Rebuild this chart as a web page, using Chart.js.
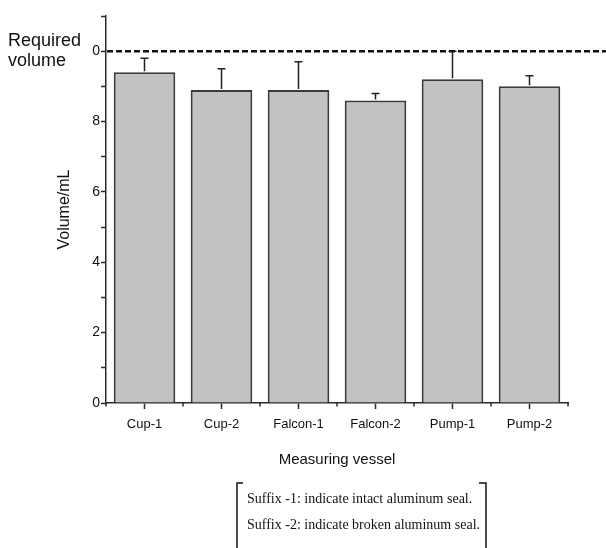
<!DOCTYPE html>
<html>
<head>
<meta charset="utf-8">
<script src="https://cdn.jsdelivr.net/npm/chart.js@4/dist/chart.umd.min.js"></script>
<style>
  html, body { margin: 0; padding: 0; background: #fff; }
  #wrap { position: relative; width: 606px; height: 548px; }
</style>
</head>
<body>
<div id="wrap"><canvas id="c" width="606" height="548"></canvas></div>
<script>
const categories = ['Cup-1', 'Cup-2', 'Falcon-1', 'Falcon-2', 'Pump-1', 'Pump-2'];
const volumes = [9.4, 8.9, 8.9, 8.6, 9.2, 9.0];
const errors = [0.4, 0.6, 0.8, 0.2, 0.8, 0.3];
const requiredVolume = 10;
const yMin = 0;
const yMax = 11;
const yStep = 1;
const requiredLabel = ['Required', 'volume'];
const yTitle = 'Volume/mL';
const xTitle = 'Measuring vessel';
const footnotes = ['Suffix -1: indicate intact aluminum seal.', 'Suffix -2: indicate broken aluminum seal.'];

const AXIS = '#2a2a2a';
const SANS = '"Liberation Sans", Arial, sans-serif';

const overlay = {
  id: 'overlay',
  afterDatasetsDraw(chart) {
    const {ctx} = chart;
    const xs = chart.scales.x, ys = chart.scales.y;
    ctx.save();
    // error bars (upper only)
    ctx.strokeStyle = '#222';
    ctx.lineWidth = 1.5;
    volumes.forEach((v, i) => {
      const x = xs.getPixelForValue(i);
      const y0 = ys.getPixelForValue(v);
      const y1 = ys.getPixelForValue(v + errors[i]);
      ctx.beginPath();
      ctx.moveTo(x, y0 - 1); ctx.lineTo(x, y1);
      ctx.moveTo(x - 4, y1); ctx.lineTo(x + 4, y1);
      ctx.stroke();
    });
    // minor x ticks between categories
    ctx.strokeStyle = AXIS;
    ctx.lineWidth = 1.5;
    for (let i = 0; i <= categories.length; i++) {
      const x = xs.getPixelForValue(i - 0.5);
      ctx.beginPath();
      ctx.moveTo(x, xs.top); ctx.lineTo(x, xs.top + 3.5);
      ctx.stroke();
    }
    // required volume dashed line
    const yr = ys.getPixelForValue(requiredVolume);
    ctx.strokeStyle = '#111';
    ctx.lineWidth = 2.5;
    ctx.setLineDash([6, 3]);
    ctx.beginPath();
    ctx.moveTo(ys.right + 1, yr); ctx.lineTo(chart.width, yr);
    ctx.stroke();
    ctx.setLineDash([]);
    // required volume label
    ctx.fillStyle = '#111';
    ctx.font = '18px ' + SANS;
    ctx.textAlign = 'left';
    ctx.textBaseline = 'alphabetic';
    ctx.fillText(requiredLabel[0], 8, yr - 5);
    ctx.fillText(requiredLabel[1], 8, yr + 15);
    // footnote with brackets
    ctx.font = '14px "Liberation Serif", "Times New Roman", serif';
    ctx.fillText(footnotes[0], 247, 503);
    ctx.fillText(footnotes[1], 247, 529);
    ctx.strokeStyle = '#111';
    ctx.lineWidth = 1.5;
    ctx.beginPath();
    ctx.moveTo(243, 483); ctx.lineTo(237, 483); ctx.lineTo(237, 548);
    ctx.moveTo(479, 483); ctx.lineTo(486, 483); ctx.lineTo(486, 548);
    ctx.stroke();
    ctx.restore();
  }
};

new Chart(document.getElementById('c'), {
  type: 'bar',
  data: {
    labels: categories,
    datasets: [{
      data: volumes,
      backgroundColor: '#c2c2c2',
      borderColor: '#3a3a3a',
      borderWidth: 2,
      categoryPercentage: 1.0,
      barPercentage: 0.8
    }]
  },
  options: {
    responsive: false,
    animation: false,
    devicePixelRatio: 1,
    layout: { padding: { left: 0, top: 16, right: 38, bottom: 75 } },
    plugins: { legend: { display: false }, tooltip: { enabled: false } },
    scales: {
      x: {
        offset: true,
        grid: { offset: false, drawOnChartArea: false, drawTicks: true, tickLength: 6, tickColor: AXIS, tickWidth: 1.5 },
        border: { display: true, color: AXIS, width: 1.5 },
        ticks: { color: '#111', font: { family: SANS, size: 13 }, padding: 8, maxRotation: 0 },
        title: { display: true, text: xTitle, color: '#111', font: { family: SANS, size: 15 }, padding: { top: 0, bottom: 4 } },
        afterFit(scale) { scale.height = 70; }
      },
      y: {
        min: yMin, max: yMax,
        grid: { drawOnChartArea: false, drawTicks: true, tickLength: 5, tickColor: AXIS, tickWidth: 1.5 },
        border: { display: true, color: AXIS, width: 1.5 },
        ticks: {
          stepSize: yStep,
          color: '#111',
          font: { family: SANS, size: 14 },
          padding: 1,
          callback(v) { return v % 2 === 0 && v <= requiredVolume ? String(v % 10) : ''; }
        },
        title: { display: true, text: yTitle, color: '#111', font: { family: SANS, size: 16 }, padding: { top: 55, bottom: 0 } },
        afterFit(scale) { scale.width = 106; }
      }
    }
  },
  plugins: [overlay]
});
</script>
</body>
</html>
